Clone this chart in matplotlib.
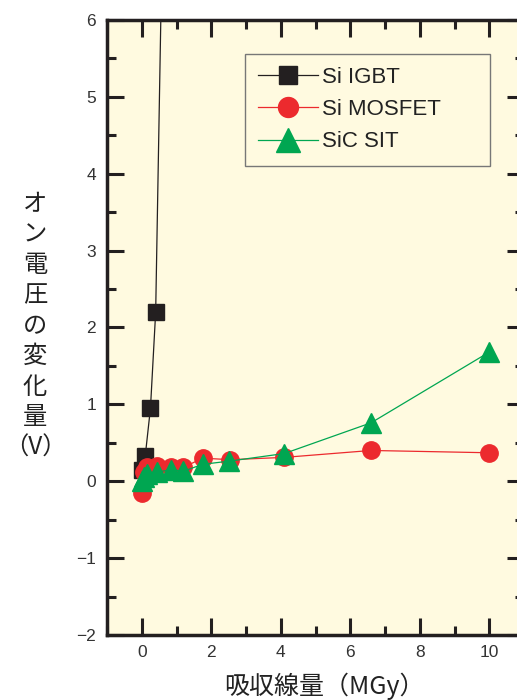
import matplotlib
matplotlib.use("Agg")
import matplotlib.pyplot as plt
from matplotlib.ticker import MultipleLocator

plt.rcParams['font.family'] = ['Liberation Sans', 'Noto Sans CJK JP', 'DejaVu Sans']
plt.rcParams['axes.unicode_minus'] = True

# Absorbed dose (MGy) vs. change in on-voltage (V)
igbt_x = [0.02, 0.1, 0.25, 0.4, 0.8]
igbt_y = [0.15, 0.33, 0.95, 2.2, 12.5]

mosfet_x = [0.02, 0.05, 0.15, 0.45, 0.85, 1.2, 1.75, 2.55, 4.1, 6.6, 10.0]
mosfet_y = [-0.15, 0.12, 0.18, 0.2, 0.19, 0.18, 0.3, 0.28, 0.31, 0.4, 0.37]

sit_x = [0.0, 0.05, 0.15, 0.45, 0.85, 1.2, 1.75, 2.5, 4.1, 6.6, 10.0]
sit_y = [0.0, 0.05, 0.1, 0.12, 0.15, 0.13, 0.22, 0.26, 0.36, 0.76, 1.68]

labels = ['Si IGBT', 'Si MOSFET', 'SiC SIT']
x_ticks = [0, 2, 4, 6, 8, 10]
y_ticks = [-2, -1, 0, 1, 2, 3, 4, 5, 6]

BLACK = '#231f20'
RED = '#ec2a2e'
GREEN = '#00a651'
PANEL = '#fffae0'

fig = plt.figure(figsize=(5.17, 7.0), dpi=100)
ax = fig.add_axes([0.207, 0.0929, 0.8066, 0.8786])
ax.set_facecolor(PANEL)

ax.plot(igbt_x, igbt_y, color=BLACK, lw=0.9, marker='s', ms=11.5,
        mfc=BLACK, mec=BLACK, label=labels[0], zorder=3)
ax.plot(mosfet_x, mosfet_y, color=RED, lw=0.9, marker='o', ms=12.5,
        mfc=RED, mec=RED, label=labels[1], zorder=4)
ax.plot(sit_x, sit_y, color=GREEN, lw=0.9, marker='^', ms=15,
        mfc=GREEN, mec=GREEN, label=labels[2], zorder=5)

ax.set_xlim(-1, 11)
ax.set_ylim(-2, 6)
ax.set_xticks(x_ticks)
ax.set_yticks(y_ticks)
ax.xaxis.set_minor_locator(MultipleLocator(1))
ax.yaxis.set_minor_locator(MultipleLocator(0.5))
ax.tick_params(which='both', direction='in', top=True, right=True,
               width=2.2, color=BLACK, labelsize=12.5, labelcolor='#333333')
ax.tick_params(which='major', length=12)
ax.tick_params(which='minor', length=6.5)
ax.tick_params(axis='y', which='major', pad=8)
ax.tick_params(axis='x', which='major', pad=7)
for sp in ax.spines.values():
    sp.set_linewidth(2.5)
    sp.set_color(BLACK)

leg = ax.legend(loc='upper left', bbox_to_anchor=(0.331, 0.764, 0.587, 0.181),
                mode='expand', fontsize=16, frameon=True, fancybox=False,
                handlelength=2.7, handletextpad=0.15, borderpad=0.6,
                labelspacing=0.5, borderaxespad=0, markerscale=1.15)
leg.get_frame().set_edgecolor('#777777')
leg.get_frame().set_linewidth(1.0)
leg.get_frame().set_facecolor(PANEL)
leg.get_frame().set_alpha(1)
for t in leg.get_texts():
    t.set_color('#222222')

# Vertical stacked y-axis title
ylab = ['オ', 'ン', '電', '圧', 'の', '変', '化', '量', '（V）']
fig.text(35 / 517, 1 - 326 / 700, '\n'.join(ylab), ha='center', va='center',
         fontsize=17.5, linespacing=1.22, color='#222222',
         family=['Noto Sans CJK JP'])

fig.text(324 / 517, 1 - 686 / 700, '吸収線量（MGy）', ha='center', va='center',
         fontsize=18, color='#222222', family=['Noto Sans CJK JP'])

fig.savefig('out.png', dpi=100)
